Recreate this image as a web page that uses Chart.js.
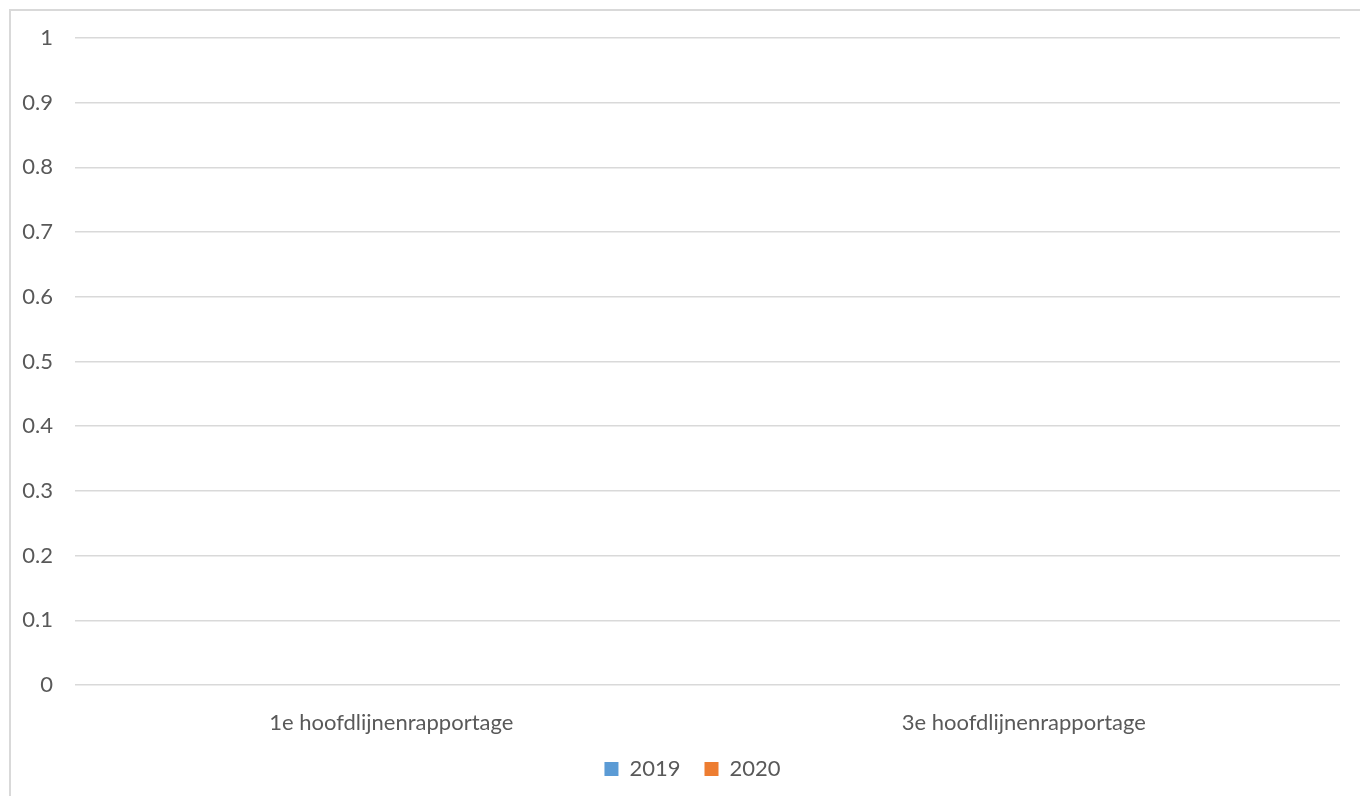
<!DOCTYPE html>
<html>
<head>
<meta charset="utf-8">
<script src="https://cdn.jsdelivr.net/npm/chart.js@4"></script>
<style>
  html, body { margin: 0; padding: 0; background: #fff; }
  #frame {
    position: absolute; left: 9px; top: 9px;
    width: 1400px; height: 840px;
    border-left: 2px solid #d9d9d9; border-top: 2px solid #d9d9d9;
  }
  #wrap { position: absolute; left: 0; top: 0; width: 1360px; height: 796px; }
</style>
</head>
<body>
<div id="frame"></div>
<div id="wrap"><canvas id="barChart"></canvas></div>
<script>
// Categories and series
var categories = ['1e hoofdlijnenrapportage', '3e hoofdlijnenrapportage'];
var values2019 = [0, 0];
var values2020 = [0, 0];
var yTicks = [0, 0.1, 0.2, 0.3, 0.4, 0.5, 0.6, 0.7, 0.8, 0.9, 1];

var textColor = '#595959';
var gridColor = '#d9d9d9';
var font = { family: 'Lato, "Open Sans", sans-serif', size: 22 };

// Legend sits centred under the plot area rather than the whole canvas
var legendShift = {
    id: 'legendShift',
    afterLayout: function(chart) {
        var lg = chart.legend;
        var dx = (chart.chartArea.left + chart.chartArea.right) / 2 - (lg.left + lg.right) / 2 - 15;
        lg.left += dx;
        lg.right += dx;
    }
};

const ctx = document.getElementById('barChart').getContext('2d');
const barChart = new Chart(ctx, {
    type: 'bar',
    data: {
        labels: categories,
        datasets: [
            { label: '2019', data: values2019, backgroundColor: '#5B9BD5', borderWidth: 0 },
            { label: '2020', data: values2020, backgroundColor: '#ED7D31', borderWidth: 0 }
        ]
    },
    plugins: [legendShift],
    options: {
        responsive: true,
        maintainAspectRatio: false,
        animation: false,
        layout: { padding: { top: 38, right: 20, left: 0, bottom: 6 } },
        plugins: {
            tooltip: { enabled: false },
            legend: {
                position: 'bottom',
                labels: {
                    color: textColor,
                    font: font,
                    boxWidth: 14,
                    boxHeight: 14,
                    padding: 24
                }
            }
        },
        scales: {
            x: {
                grid: { display: false, drawTicks: false },
                border: { display: false },
                ticks: { color: textColor, font: font, padding: 25 },
                afterFit: function(scale) { scale.height = 49; }
            },
            y: {
                min: 0,
                max: 1,
                afterBuildTicks: function(scale) {
                    scale.ticks = yTicks.map(function(v) { return { value: v }; });
                },
                grid: { color: gridColor, lineWidth: 1.5, drawTicks: false },
                border: { display: false },
                ticks: {
                    color: textColor, font: font, padding: 22,
                    callback: function(v) { return String(v); }
                },
                afterFit: function(scale) { scale.width = 75; }
            }
        }
    }
});
</script>
</body>
</html>
